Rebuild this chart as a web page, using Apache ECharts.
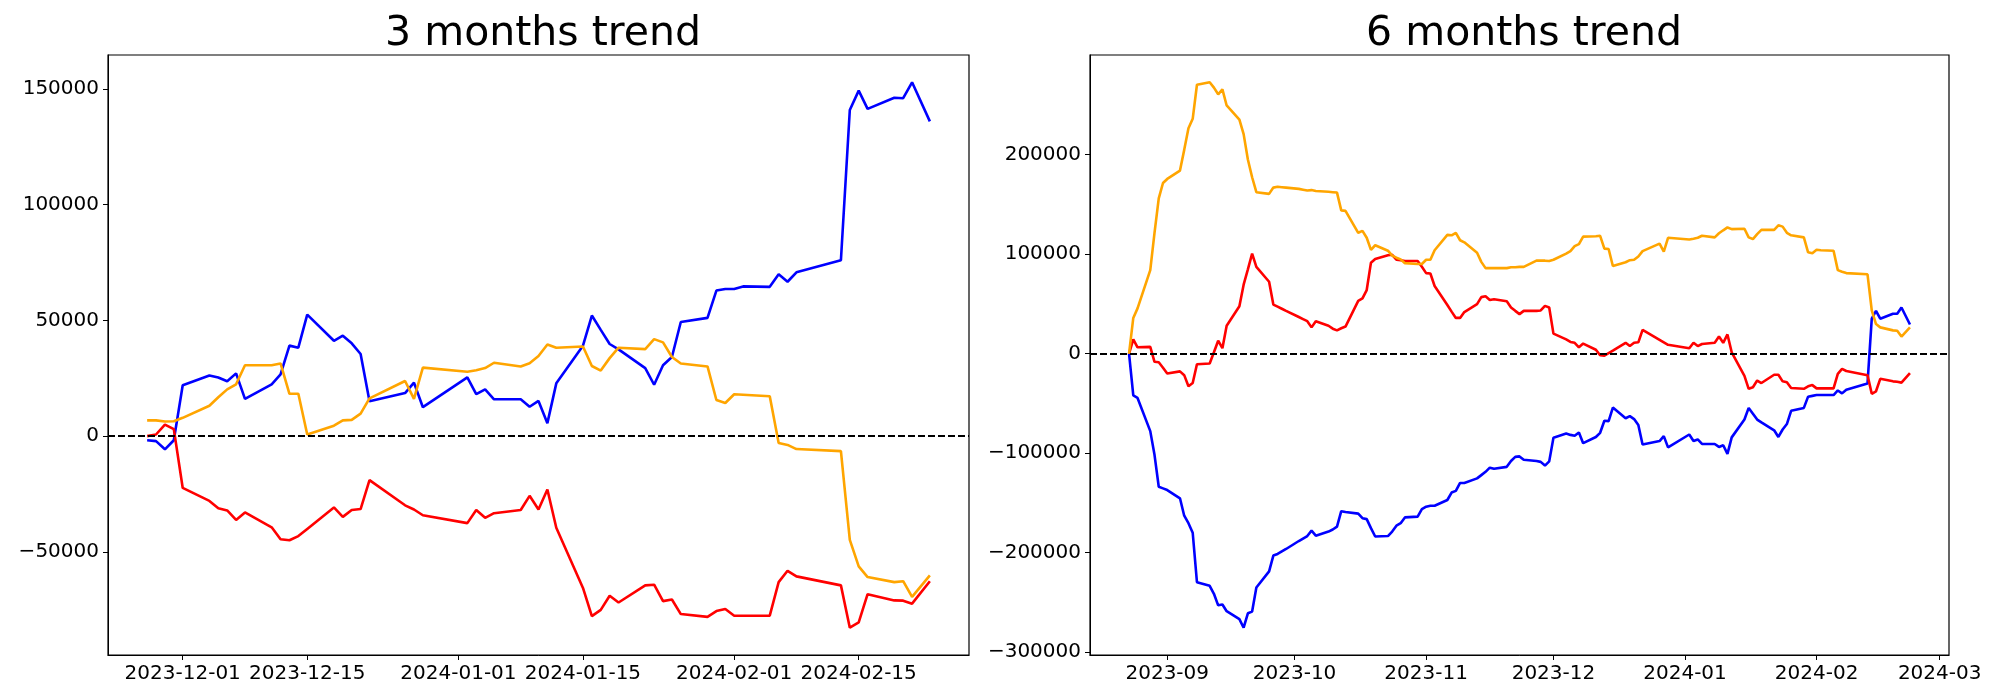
<!DOCTYPE html>
<html><head><meta charset="utf-8">
<script src="https://cdn.jsdelivr.net/npm/echarts@6/dist/echarts.min.js"></script>
<style>html,body{margin:0;padding:0;background:#fff}#c{width:2000px;height:700px}</style>
</head><body><div id="c"></div>
<script>
// ---------- 3 months trend ----------
const dates3 = ['2023-11-27','2023-11-28','2023-11-29','2023-11-30','2023-12-01',
 '2023-12-04','2023-12-05','2023-12-06','2023-12-07','2023-12-08',
 '2023-12-11','2023-12-12','2023-12-13','2023-12-14','2023-12-15',
 '2023-12-18','2023-12-19','2023-12-20','2023-12-21','2023-12-22',
 '2023-12-26','2023-12-27','2023-12-28',
 '2024-01-02','2024-01-03','2024-01-04','2024-01-05',
 '2024-01-08','2024-01-09','2024-01-10','2024-01-11','2024-01-12',
 '2024-01-15','2024-01-16','2024-01-17','2024-01-18','2024-01-19',
 '2024-01-22','2024-01-23','2024-01-24','2024-01-25','2024-01-26',
 '2024-01-29','2024-01-30','2024-01-31','2024-02-01','2024-02-02',
 '2024-02-05','2024-02-06','2024-02-07','2024-02-08',
 '2024-02-13','2024-02-14','2024-02-15','2024-02-16',
 '2024-02-19','2024-02-20','2024-02-21','2024-02-23'];
const blue3 = [-1800,-2150,-5700,-1800,22000,
 26200,25300,23700,27100,16100,
 22400,26700,39100,38200,52500,
 41200,43400,40100,35500,15100,
 18600,23100,12500,
 25400,18100,20200,15900,
 15900,12700,15200,5600,22800,
 39100,52100,45900,39800,37500,
 29400,22200,30600,34200,49300,
 51100,62900,63600,63600,64700,
 64500,69900,66700,70800,
 76000,140900,149300,141400,
 146200,146000,152900,136000];
const red3 = [0,700,5000,3000,-22400,
 -28000,-31200,-32100,-36200,-33000,
 -39400,-44600,-45000,-43200,-40100,
 -30800,-34900,-31900,-31500,-19000,
 -29900,-31700,-34200,
 -37600,-31900,-35300,-33300,
 -31900,-25800,-31700,-23100,-39600,
 -65600,-77800,-75100,-69000,-71900,
 -64500,-64200,-71300,-70600,-76900,
 -78100,-75600,-74700,-77600,-77600,
 -77600,-63100,-58200,-60600,
 -64500,-82800,-80500,-68300,
 -71000,-71100,-72400,-62700];
const orange3 = [6800,6800,6300,6450,7900,
 13100,16800,20200,22400,30600,
 30600,31400,18300,18300,700,
 4500,6800,7000,9700,16300,
 23800,16100,29600,
 27800,28500,29400,31700,
 30100,31500,34600,39600,38200,
 38700,30300,28300,33700,38200,
 37600,41900,40500,34200,31400,
 30100,15600,14300,18100,17900,
 17200,-3000,-3800,-5600,
 -6500,-44800,-56300,-60900,
 -63100,-62700,-69500,-60200];
const xTicks3 = ['2023-12-01','2023-12-15','2024-01-01','2024-01-15','2024-02-01','2024-02-15'];
const yTicks3 = [-50000,0,50000,100000,150000];

// ---------- 6 months trend ----------
const dates6 = [
 '2023-08-23','2023-08-24','2023-08-25','2023-08-28','2023-08-29','2023-08-30','2023-08-31',
 '2023-09-01','2023-09-04','2023-09-05','2023-09-06','2023-09-07','2023-09-08','2023-09-11','2023-09-12','2023-09-13','2023-09-14','2023-09-15','2023-09-18','2023-09-19','2023-09-20','2023-09-21','2023-09-22','2023-09-25','2023-09-26','2023-09-27','2023-09-28','2023-09-29',
 '2023-10-02','2023-10-03','2023-10-04','2023-10-05','2023-10-06','2023-10-09','2023-10-10','2023-10-11','2023-10-12','2023-10-13','2023-10-16','2023-10-17','2023-10-18','2023-10-19','2023-10-20','2023-10-23','2023-10-24','2023-10-25','2023-10-26','2023-10-27','2023-10-30','2023-10-31',
 '2023-11-01','2023-11-02','2023-11-03','2023-11-06','2023-11-07','2023-11-08','2023-11-09','2023-11-10','2023-11-13','2023-11-14','2023-11-15','2023-11-16','2023-11-17','2023-11-20','2023-11-21','2023-11-22','2023-11-23','2023-11-24','2023-11-27','2023-11-28','2023-11-29','2023-11-30',
 '2023-12-01','2023-12-04','2023-12-05','2023-12-06','2023-12-07','2023-12-08','2023-12-11','2023-12-12','2023-12-13','2023-12-14','2023-12-15','2023-12-18','2023-12-19','2023-12-20','2023-12-21','2023-12-22','2023-12-26','2023-12-27','2023-12-28',
 '2024-01-02','2024-01-03','2024-01-04','2024-01-05','2024-01-08','2024-01-09','2024-01-10','2024-01-11','2024-01-12','2024-01-15','2024-01-16','2024-01-17','2024-01-18','2024-01-19','2024-01-22','2024-01-23','2024-01-24','2024-01-25','2024-01-26','2024-01-29','2024-01-30','2024-01-31',
 '2024-02-01','2024-02-02','2024-02-05','2024-02-06','2024-02-07','2024-02-08','2024-02-13','2024-02-14','2024-02-15','2024-02-16','2024-02-19','2024-02-20','2024-02-21','2024-02-23'];
const blue6 = [
 0,-42100,-44600,-77900,-101700,-133800,-135400,
 -137100,-145400,-162900,-170400,-180000,-229600,-233300,-241300,-252900,-252100,-258800,-266700,-275400,-260900,-259200,-235000,-218800,-202900,-201300,-198800,-196300,
 -188300,-185800,-183300,-177900,-182900,-178800,-176700,-173800,-158300,-159200,-160800,-165400,-166300,-175400,-183800,-183300,-178800,-172900,-170400,-164600,-163800,-156300,
 -153800,-152900,-152900,-147100,-139600,-137900,-130000,-130000,-125400,-122100,-118800,-114600,-115800,-113800,-107900,-103800,-103300,-106700,-107900,-108800,-112500,-108300,
 -84600,-80400,-81700,-82500,-79200,-90000,-83800,-79600,-67500,-67900,-54200,-65000,-62900,-65800,-71700,-91300,-87900,-82900,-94200,
 -81300,-87900,-86300,-90800,-90800,-93800,-92100,-100800,-84200,-66300,-54600,-60400,-66300,-69200,-77100,-83800,-76300,-70800,-57500,-54600,-43300,-42500,
 -41700,-41700,-41700,-37100,-40000,-36300,-30000,35000,42900,35000,40000,40000,46300,29200];
const red6 = [
 0,14200,6300,6700,-8300,-8800,-14200,
 -20000,-17900,-21700,-32900,-29600,-10800,-10000,1300,12900,5400,27900,47500,69200,84600,100400,87100,72100,49200,47100,45000,42900,
 36700,34600,32500,26300,32500,27900,25000,23300,25400,27100,52900,55400,63800,91300,95000,98800,99200,94200,93800,92900,92900,87100,
 80800,80400,67900,48800,42100,35800,35800,41700,49600,56700,57500,53800,54600,52500,46300,42900,39600,42900,42900,43300,47900,46300,
 20000,14200,11700,10800,6300,10000,3800,-1700,-2100,400,2900,10800,7500,10800,11300,23800,13800,11300,8800,
 5400,10800,7500,9600,10800,17100,10800,19200,1300,-22500,-35400,-33800,-27100,-29600,-21300,-21300,-27900,-28800,-34600,-35400,-32900,-31700,
 -35000,-35000,-35000,-20400,-15400,-17500,-21700,-40400,-37900,-25400,-27900,-28300,-29200,-19600];
const orange6 = [
 0,35800,45400,83800,121300,155800,171300,
 175400,183800,204600,226300,235800,270000,272500,267100,260400,265400,249200,235000,220400,195000,177100,162100,160400,166700,167500,167100,166700,
 165400,164600,163800,164200,163300,162500,162100,161700,143800,143300,121300,123300,116300,104200,108800,103300,98300,96300,94600,90800,90000,90000,
 94200,94200,103800,119200,118800,121300,113800,111700,101300,92100,85800,85800,85800,85800,86700,86700,87100,87100,93300,93300,93300,92900,
 94200,100400,102900,107900,110000,117500,117900,118300,105400,105000,87900,91700,93800,94200,97500,102900,110400,102500,116300,
 114600,115400,116300,118300,116700,120800,123800,126700,125000,125400,116700,115000,120000,124200,124200,128800,127500,121300,118800,116700,101700,100800,
 104200,103800,103300,83800,82100,80800,79600,43300,29600,26300,23300,22900,17100,26300];
const xTicks6 = ['2023-09','2023-10','2023-11','2023-12','2024-01','2024-02','2024-03'];
const yTicks6 = [-300000,-200000,-100000,0,100000,200000];

// ---------- helpers ----------
const FONT = 'DejaVu Sans';
const DAY = 86400000;
// dates are placed on a numeric axis measured in days
function dnum(s){ const p = s.split('-').map(Number); return Date.UTC(p[0], p[1]-1, p[2] || 1) / DAY; }
function pairs(d, v){ return d.map((s,i)=>[dnum(s), v[i]]); }
function padRange(lo, hi){ const r = (hi-lo)*0.05; return [lo-r, hi+r]; }
function yFmt(v){ return v < 0 ? '\u2212' + Math.abs(v) : String(v); }

function buildPanel(idx, dates, blue, red, orange, xTicks, yTicks){
  const t = dates.map(dnum);
  const xr = padRange(Math.min(...t), Math.max(...t));
  const all = blue.concat(red, orange);
  const yr = padRange(Math.min(...all), Math.max(...all));
  const xTickV = xTicks.map(dnum);
  const labelMap = {};
  xTicks.forEach((s,i)=>{ labelMap[xTickV[i]] = s; });
  const xAxis = {
    type: 'value', gridIndex: idx, min: xr[0], max: xr[1], scale: true,
    axisLine: {show: true, onZero: false, lineStyle: {color: '#000', width: 1}},
    axisTick: {show: true, length: 5, lineStyle: {color: '#000', width: 1}, customValues: xTickV},
    axisLabel: {show: true, color: '#000', fontSize: 20, fontFamily: FONT, margin: 9,
      customValues: xTickV, formatter: v => labelMap[v] !== undefined ? labelMap[v] : '',
      hideOverlap: false},
    splitLine: {show: false}
  };
  const yAxis = {
    type: 'value', gridIndex: idx, min: yr[0], max: yr[1],
    axisLine: {show: true, lineStyle: {color: '#000', width: 1}},
    axisTick: {show: true, length: 5, lineStyle: {color: '#000', width: 1}, customValues: yTicks},
    axisLabel: {show: true, color: '#000', fontSize: 20, fontFamily: FONT, margin: 9,
      customValues: yTicks, formatter: yFmt, hideOverlap: false},
    splitLine: {show: false}
  };
  const mk = (name, data, color, extra) => Object.assign({
    name, type: 'line', xAxisIndex: idx, yAxisIndex: idx,
    data: pairs(dates, data), showSymbol: false, symbol: 'none', smooth: false,
    lineStyle: {color, width: 2.6}, itemStyle: {color}, animation: false, silent: true
  }, extra || {});
  const series = [
    mk('blue', blue, '#0000ff', {
      markLine: {silent: true, symbol: 'none', label: {show: false},
        lineStyle: {color: '#000', type: [7, 3], width: 2}, data: [{yAxis: 0}], animation: false}
    }),
    mk('red', red, '#ff0000'),
    mk('orange', orange, '#ffa500')
  ];
  return {xAxis, yAxis, series};
}

const p1 = buildPanel(0, dates3, blue3, red3, orange3, xTicks3, yTicks3);
const p2 = buildPanel(1, dates6, blue6, red6, orange6, xTicks6, yTicks6);

const chart = echarts.init(document.getElementById('c'), null, {renderer: 'canvas'});
chart.setOption({
  animation: false,
  backgroundColor: '#fff',
  title: [
    {text: '3 months trend', left: 538, top: 9, textAlign: 'center',
      textStyle: {fontFamily: FONT, fontSize: 41, fontWeight: 'normal', color: '#000'}},
    {text: '6 months trend', left: 1519, top: 9, textAlign: 'center',
      textStyle: {fontFamily: FONT, fontSize: 41, fontWeight: 'normal', color: '#000'}}
  ],
  grid: [
    {left: 108, top: 55, width: 861, height: 600, show: true, borderColor: '#000', borderWidth: 1.2, backgroundColor: 'transparent'},
    {left: 1090, top: 55, width: 859, height: 600, show: true, borderColor: '#000', borderWidth: 1.2, backgroundColor: 'transparent'}
  ],
  xAxis: [p1.xAxis, p2.xAxis],
  yAxis: [p1.yAxis, p2.yAxis],
  series: p1.series.concat(p2.series)
});
</script></body></html>
